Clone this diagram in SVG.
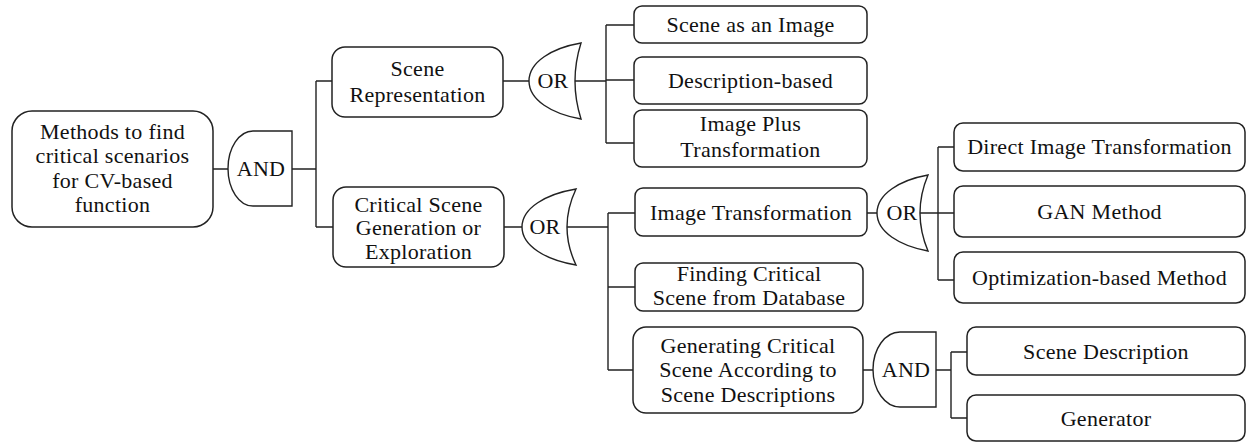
<svg xmlns="http://www.w3.org/2000/svg" width="1247" height="443" viewBox="0 0 1247 443">
<style>
.box{fill:#fff;stroke:#222;stroke-width:1.5}
.gate{fill:#fff;stroke:#222;stroke-width:1.4}
.ln{fill:none;stroke:#222;stroke-width:1.4}
text{font-family:"Liberation Serif","Times New Roman",serif;font-size:22px;fill:#111;text-anchor:middle;letter-spacing:0.3px}
</style>
<rect width="1247" height="443" fill="#fff"/>
<g id="connectors">
<path class="ln" d="M213,169 H228 M292,169 H316 M316,81 V227 M316,81 H332 M316,227 H333"/>
<path class="ln" d="M503,81 H529 M575,81 H606 M606,25 V143 M606,25 H634 M606,80 H634 M606,143 H634"/>
<path class="ln" d="M504,227 H522 M567,227 H608 M608,213 V370 M608,213 H635 M608,287 H635 M608,370 H633"/>
<path class="ln" d="M867,213 H877 M920,213 H938 M938,147 V280 M938,147 H954 M938,213 H954 M938,280 H954"/>
<path class="ln" d="M863,370 H873 M936,370 H951 M951,352 V418 M951,352 H967 M951,418 H967"/>
</g>
<g id="root">
<rect class="box" x="12" y="111" width="201" height="116" rx="20"/>
<text x="112.5" y="139">Methods to find</text>
<text x="112.5" y="163.3">critical scenarios</text>
<text x="112.5" y="187.6">for CV-based</text>
<text x="112.5" y="212">function</text>
</g>
<g id="and1">
<path class="gate" d="M292,131 L253,131 A25,37.5 0 0 0 253,206 L292,206 Z"/>
<text x="261" y="176">AND</text>
</g>
<g id="scene-representation">
<rect class="box" x="332" y="47" width="171" height="70" rx="13"/>
<text x="417.5" y="76">Scene</text>
<text x="417.5" y="101.5">Representation</text>
</g>
<g id="or1">
<path class="gate" d="M529,81 C529,62 552,48 581,43 Q569,81 581,119 C552,114 529,100 529,81 Z"/>
<text x="553" y="88">OR</text>
</g>
<g id="scene-as-image">
<rect class="box" x="634" y="6" width="233" height="37" rx="8"/>
<text x="750.5" y="32">Scene as an Image</text>
</g>
<g id="description-based">
<rect class="box" x="634" y="57" width="233" height="47" rx="8"/>
<text x="750.5" y="88">Description-based</text>
</g>
<g id="image-plus">
<rect class="box" x="634" y="110" width="233" height="57" rx="8"/>
<text x="750.5" y="131">Image Plus</text>
<text x="750.5" y="156.5">Transformation</text>
</g>
<g id="critical-scene">
<rect class="box" x="333" y="187" width="171" height="80" rx="13"/>
<text x="418.5" y="211.5">Critical Scene</text>
<text x="418.5" y="235">Generation or</text>
<text x="418.5" y="258.5">Exploration</text>
</g>
<g id="or2">
<path class="gate" d="M522,227 C522,208 546,194 576,189 Q558,227 576,265 C546,260 522,246 522,227 Z"/>
<text x="545" y="234">OR</text>
</g>
<g id="image-transformation">
<rect class="box" x="635" y="188" width="232" height="48" rx="8"/>
<text x="751" y="219.5">Image Transformation</text>
</g>
<g id="or3">
<path class="gate" d="M877,213 C877,194 900,180 928,175 Q912,213 928,251 C900,246 877,232 877,213 Z"/>
<text x="902" y="220">OR</text>
</g>
<g id="direct-image">
<rect class="box" x="954" y="123" width="291" height="48" rx="9"/>
<text x="1099.5" y="154">Direct Image Transformation</text>
</g>
<g id="gan">
<rect class="box" x="954" y="186" width="291" height="51" rx="9"/>
<text x="1099.5" y="219">GAN Method</text>
</g>
<g id="optimization">
<rect class="box" x="954" y="252" width="291" height="51" rx="9"/>
<text x="1099.5" y="285">Optimization-based Method</text>
</g>
<g id="finding-critical">
<rect class="box" x="635" y="263" width="228" height="48" rx="8"/>
<text x="749" y="280.5">Finding Critical</text>
<text x="749" y="305">Scene from Database</text>
</g>
<g id="generating-critical">
<rect class="box" x="633" y="327" width="230" height="86" rx="13"/>
<text x="748" y="352.5">Generating Critical</text>
<text x="748" y="377">Scene According to</text>
<text x="748" y="401.5">Scene Descriptions</text>
</g>
<g id="and2">
<path class="gate" d="M936,332 L900,332 A27,37.5 0 0 0 900,407 L936,407 Z"/>
<text x="906" y="377">AND</text>
</g>
<g id="scene-description">
<rect class="box" x="967" y="327" width="278" height="48" rx="9"/>
<text x="1106" y="358.5">Scene Description</text>
</g>
<g id="generator">
<rect class="box" x="967" y="395" width="278" height="46" rx="9"/>
<text x="1106" y="425.5">Generator</text>
</g>
</svg>
